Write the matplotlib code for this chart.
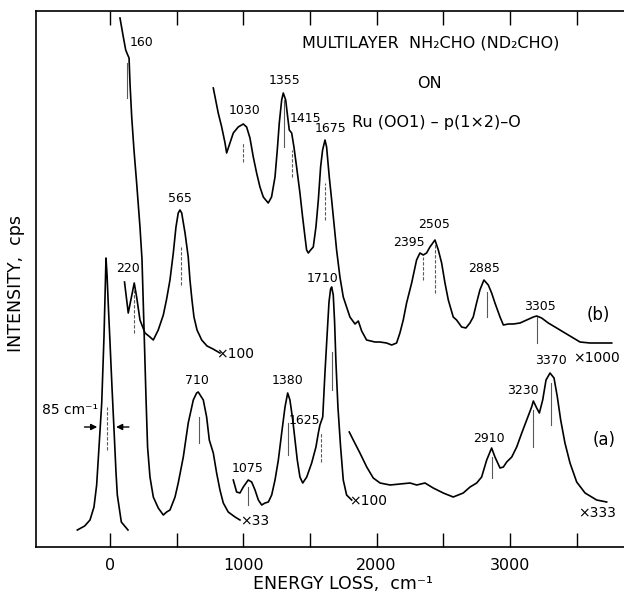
import matplotlib
matplotlib.use("Agg")
import matplotlib.pyplot as plt
from matplotlib import font_manager

# energy loss (cm-1) and intensity (arbitrary) for each trace
elastic_e = [-245, -190, -150, -120, -100, -80, -62, -45, -35, -30, -22, -12, 0, 15, 30, 45, 55, 85, 135]
elastic_i = [17, 21, 27, 40, 62, 105, 144, 210, 262, 289, 272, 240, 205, 160, 118, 75, 52, 25, 17]

a33_e = [75, 100, 118, 130, 143, 150, 163, 180, 200, 225, 240, 255, 270, 282, 300, 325, 362, 400,
         425, 450, 488, 512, 550, 587, 625, 650, 662, 700, 725, 745, 775, 800, 825, 850, 887, 938, 975]
a33_i = [529, 510, 497, 493, 489, 464, 430, 397, 364, 320, 288, 220, 150, 100, 70, 50, 39, 32,
         35, 37, 50, 64, 90, 124, 147, 154, 155, 147, 130, 107, 94, 74, 57, 44, 35, 30, 27]

a100_e = [925, 950, 975, 1000, 1037, 1063, 1088, 1113, 1138, 1163, 1188, 1213, 1238, 1263, 1288,
          1313, 1333, 1350, 1371, 1388, 1405, 1425, 1446, 1476, 1513, 1545, 1563, 1575, 1596, 1613,
          1630, 1643, 1655, 1663, 1675, 1685, 1695, 1710, 1730, 1750, 1775, 1813]
a100_i = [67, 55, 54, 60, 67, 65, 57, 47, 42, 44, 45, 52, 67, 87, 114, 140, 154, 147, 127, 107,
          87, 70, 64, 70, 84, 100, 114, 122, 130, 175, 215, 245, 258, 260, 252, 225, 185, 140,
          100, 67, 52, 47]

a333_e = [1795, 1825, 1875, 1926, 1975, 2026, 2101, 2176, 2251, 2301, 2363, 2425, 2500, 2575, 2650,
          2701, 2751, 2788, 2826, 2863, 2888, 2926, 2951, 2976, 3014, 3051, 3089, 3126, 3163, 3176,
          3201, 3221, 3246, 3271, 3301, 3331, 3356, 3381, 3413, 3451, 3501, 3564, 3651, 3726]
a333_i = [115, 107, 94, 80, 69, 64, 62, 63, 64, 62, 64, 59, 54, 50, 54, 60, 64, 70, 87, 99, 90,
          79, 80, 85, 90, 100, 114, 127, 140, 146, 139, 134, 147, 167, 174, 169, 150, 127, 104,
          84, 65, 54, 47, 45]

b100_e = [109, 137, 182, 200, 225, 263, 300, 325, 362, 400, 425, 450, 475, 495, 512, 525, 538,
          563, 587, 600, 615, 630, 653, 688, 728, 773, 825]
b100_i = [265, 234, 264, 250, 227, 214, 210, 207, 217, 232, 248, 267, 294, 320, 334, 337, 334,
          314, 290, 267, 247, 230, 217, 207, 201, 198, 194]

b1000_e = [775, 812, 838, 863, 875, 900, 925, 962, 1000, 1025, 1050, 1075, 1100, 1125, 1150, 1187,
           1212, 1238, 1255, 1270, 1288, 1300, 1318, 1333, 1345, 1363, 1380, 1400, 1425, 1445, 1463,
           1475, 1488, 1505, 1525, 1545, 1563, 1580, 1595, 1613, 1625, 1645, 1663, 1683, 1700, 1725,
           1750, 1775, 1800, 1838, 1863, 1888, 1925, 1988, 2025, 2075, 2113, 2150, 2175, 2200, 2225,
           2263, 2300, 2325, 2350, 2375, 2400, 2438, 2463, 2488, 2513, 2538, 2575, 2600, 2638, 2670,
           2700, 2725, 2750, 2775, 2805, 2838, 2863, 2888, 2926, 2951, 2988, 3026, 3076, 3126, 3176,
           3201, 3238, 3288, 3351, 3413, 3476, 3526, 3601, 3676, 3764]
b1000_i = [459, 434, 420, 404, 394, 404, 414, 420, 423, 420, 409, 390, 374, 360, 350, 344,
           350, 370, 397, 424, 447, 454, 447, 430, 417, 414, 400, 380, 354, 330, 310,
           297, 294, 297, 300, 320, 347, 380, 397, 407, 400, 370, 347, 320, 297, 270,
           250, 240, 230, 223, 226, 216, 207, 205, 205, 204, 202, 204, 214, 227, 244,
           264, 287, 294, 292, 294, 300, 307, 297, 284, 264, 247, 230, 227, 220, 219,
           224, 230, 244, 257, 267, 262, 254, 244, 230, 222, 223, 223, 224, 227, 230,
           231, 229, 224, 219, 214, 209, 205, 204, 204, 204]

# peak labels: text, energy, intensity
peak_text = ["160", "220", "565", "1030", "1355", "1415", "1675", "2395", "2505", "2885", "3305",
             "710", "1075", "1380", "1625", "1710", "2910", "3230", "3370"]
peak_x = [150, 135, 525, 1013, 1313, 1350, 1658, 2243, 2431, 2806, 3226,
          653, 1035, 1335, 1575, 1598, 2843, 3098, 3308]
peak_y = [504, 279, 348, 436, 466, 428, 418, 305, 323, 278, 240,
          166, 79, 167, 126, 269, 108, 157, 186]

# short vertical markers under peaks: energy, top, bottom
mark_x = [125, 182, 533, 670, 1000, 1308, 1363, 1613, 1663, 1037, 1338, 1581,
          2346, 2438, 2830, 3206, 2863, 3176, 3306, -25]
mark_top = [484, 257, 300, 130, 404, 447, 397, 364, 195, 60, 124, 114,
            290, 304, 255, 230, 90, 137, 164, 140]
mark_bot = [449, 214, 262, 104, 385, 400, 370, 327, 157, 42, 92, 85,
            267, 254, 230, 204, 69, 100, 122, 97]
mark_dash = [False, True, True, False, True, False, True, True, False, False, False, True,
             True, True, False, False, False, False, False, True]

# scale factors and trace tags
scale_text = ["×100", "×33", "×100", "×1000", "×333", "(b)", "(a)"]
scale_x = [938, 1088, 1936, 3646, 3653, 3661, 3706]
scale_y = [193, 26, 46, 189, 34, 232, 107]

available = {f.name for f in font_manager.fontManager.ttflist}
if "Liberation Sans Narrow" in available:
    small_font, small_size = "Liberation Sans Narrow", 11
else:
    small_font, small_size = "DejaVu Sans", 9

fig = plt.figure(figsize=(6.24, 5.95), dpi=100)
ax = fig.add_axes([36 / 624, 48 / 595, 588 / 624, 536 / 595])

for e, i in [(elastic_e, elastic_i), (a33_e, a33_i), (a100_e, a100_i), (a333_e, a333_i),
             (b100_e, b100_i), (b1000_e, b1000_i)]:
    ax.plot(e, i, color="black", lw=1.2)

for x, top, bot, dash in zip(mark_x, mark_top, mark_bot, mark_dash):
    ax.plot([x, x], [bot, top], color="0.35", lw=0.8, ls=(0, (3, 1.5)) if dash else "-")

for s, x, y in zip(peak_text, peak_x, peak_y):
    ha = "center"
    if s in ("160", "1415"):
        ha = "left"
    elif s == "1625":
        ha = "right"
    ax.text(x, y, s, ha=ha, va="center", family=small_font, fontsize=small_size)

for s, x, y in zip(scale_text, scale_x, scale_y):
    if s.startswith("("):
        ax.text(x, y, s, ha="center", va="center", fontsize=12)
    else:
        ax.text(x, y, s, ha="center", va="center", family=small_font, fontsize=small_size + 1)

# resolution of the elastic peak
ax.annotate("", xy=(-75, 120), xytext=(-212, 120),
            arrowprops=dict(arrowstyle="-|>", color="black", lw=1, mutation_scale=9))
ax.annotate("", xy=(25, 120), xytext=(163, 120),
            arrowprops=dict(arrowstyle="-|>", color="black", lw=1, mutation_scale=9))
ax.text(-300, 137, "85 cm⁻¹", ha="center", va="center", family=small_font, fontsize=small_size + 1)

ax.text(2408, 504, "MULTILAYER  NH₂CHO (ND₂CHO)", ha="center", va="center", fontsize=11.5)
ax.text(2393, 463, "ON", ha="center", va="center", fontsize=11.5)
ax.text(2446, 425, "Ru (OO1) – p(1×2)–O", ha="center", va="center", fontsize=11.5)

ax.set_xlim(-555, 3856)
ax.set_ylim(0, 536)
ax.spines["right"].set_visible(False)
for side in ["left", "top", "bottom"]:
    ax.spines[side].set_linewidth(1.2)
ax.set_xticks(range(0, 3501, 500))
ax.set_xticklabels(["0", "", "1000", "", "2000", "", "3000", ""])
ax.tick_params(axis="x", direction="in", top=True, length=10, width=1, pad=8, labelsize=11.5)
ax.set_yticks([])

fig.text(343 / 624, 1 - 584 / 595, "ENERGY LOSS,  cm⁻¹", ha="center", va="center", fontsize=12.5)
fig.text(16 / 624, 1 - 283 / 595, "INTENSITY,  cps", ha="center", va="center",
         rotation=90, fontsize=12.5)

fig.savefig("out.png", dpi=100)
